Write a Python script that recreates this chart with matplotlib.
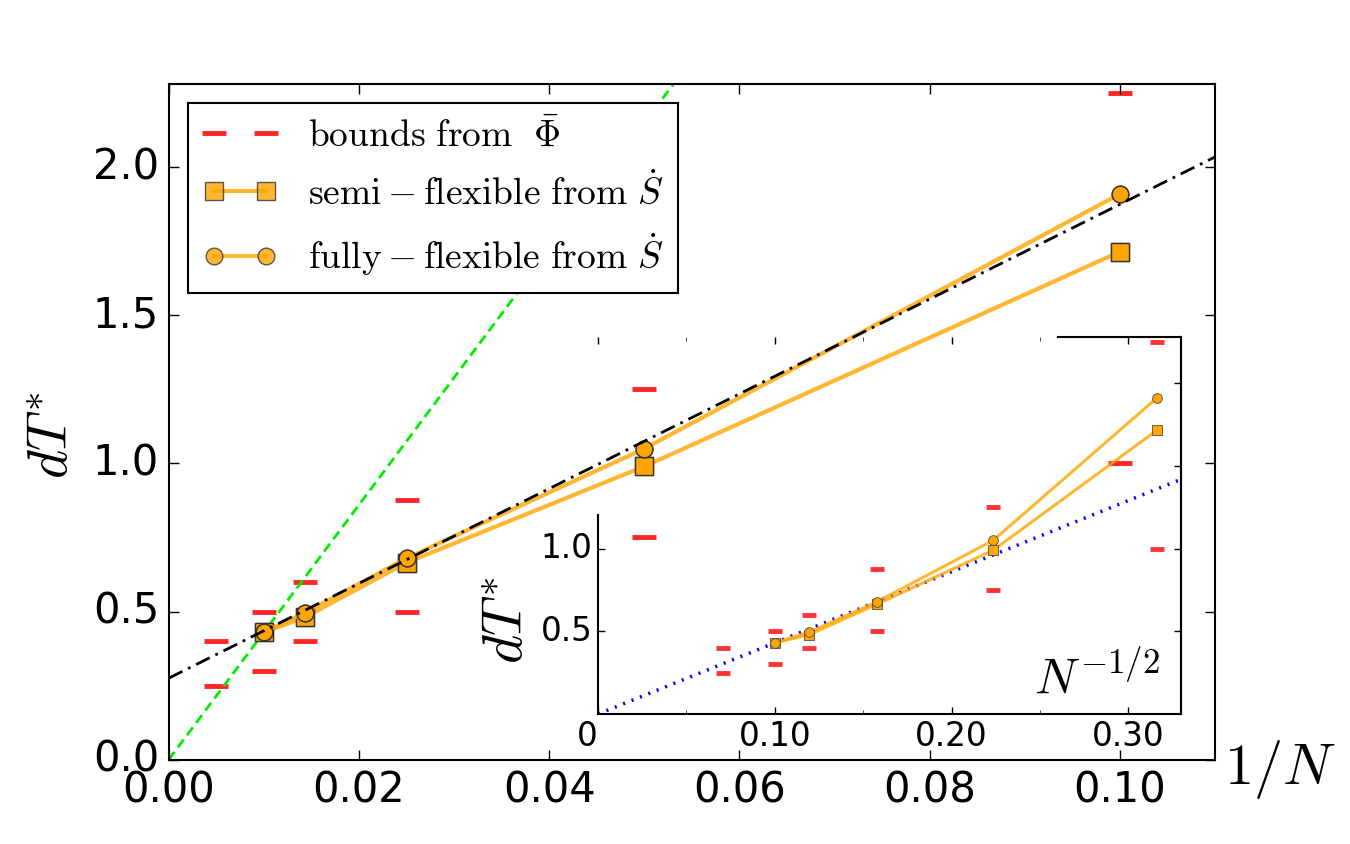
import matplotlib.pyplot as plt
import numpy as np
from matplotlib.ticker import MultipleLocator

plt.style.use('classic')
plt.rcParams['mathtext.fontset'] = 'cm'
plt.rcParams['figure.facecolor'] = 'white'
plt.rcParams['savefig.facecolor'] = 'white'
plt.rcParams['axes.linewidth'] = 1.5
plt.rcParams['lines.scale_dashes'] = False

# data
N = np.array([100, 70, 40, 20, 10])
semi = [0.43, 0.48, 0.665, 0.99, 1.715]
fully = [0.43, 0.495, 0.68, 1.05, 1.91]
N_bounds = np.array([200, 100, 70, 40, 20, 10])
bound_lo = [0.25, 0.30, 0.40, 0.50, 0.75, 1.00]
bound_hi = [0.40, 0.50, 0.60, 0.875, 1.25, 2.25]
fit_intercept = 0.275
fit_slope = 16.0
ref_N = 100          # the green / blue lines go through the N=100 point
ref_val = 0.43

fig = plt.figure(figsize=(13.5, 8.44), dpi=100)
ax = fig.add_axes([0.125, 0.1, 0.775, 0.8])

x = 1.0 / N
xb = 1.0 / N_bounds

ax.plot(xb, bound_lo, '_', color='red', ms=17, mew=3.5, alpha=0.85,
        label=r'$\mathrm{bounds\ from}\ \ \bar{\Phi}$')
ax.plot(xb, bound_hi, '_', color='red', ms=17, mew=3.5, alpha=0.85)

xg = np.array([0.0, 0.06])
ax.plot(xg, ref_val * ref_N * xg, color='#00ee00', lw=2, dashes=[7, 4])
xf = np.array([0.0, 0.11])
ax.plot(xf, fit_intercept + fit_slope * xf, color='k', lw=2,
        dashes=[11, 4.5, 2, 4.5], zorder=4)

ax.plot(x, semi, '-', color='orange', lw=3, alpha=0.8, marker='s', ms=12.5,
        mfc='orange', mec='0.2', mew=1,
        label=r'$\mathrm{semi-flexible\ from}\ \dot{S}$')
ax.plot(x, semi, 's', ms=12.5, mfc='orange', mec='0.2', mew=1)
ax.plot(x, fully, '-', color='orange', lw=3, alpha=0.8, marker='o', ms=12,
        mfc='orange', mec='0.2', mew=1,
        label=r'$\mathrm{fully-flexible\ from}\ \dot{S}$')
ax.plot(x, fully, 'o', ms=12, mfc='orange', mec='0.2', mew=1)

ax.set_xlim(0, 0.11)
ax.set_ylim(0, 2.28)
ax.set_xticks(np.arange(0, 0.101, 0.02))
ax.set_yticks(np.arange(0, 2.01, 0.5))
ax.tick_params(labelsize=30, length=7, width=1, pad=7)

ax.set_xlabel(r'$1/N$', fontsize=42, va='center')
ax.xaxis.set_label_coords(1.062, -0.015)
ax.set_ylabel(r'$dT^{*}$', fontsize=40, va='center')
ax.yaxis.set_label_coords(-0.112, 0.48)

leg = ax.legend(loc='upper left', fontsize=27, numpoints=2,
                handlelength=2.0, fancybox=False)
leg.get_frame().set_linewidth(1.5)

# inset: same data against N^{-1/2}
axi = fig.add_axes([0.443, 0.154, 0.432, 0.447])
axi.patch.set_alpha(0)
s = 1.0 / np.sqrt(N)
sb = 1.0 / np.sqrt(N_bounds)

axi.plot(sb, bound_lo, '_', color='red', ms=10, mew=3.5, alpha=0.8)
axi.plot(sb, bound_hi, '_', color='red', ms=10, mew=3.5, alpha=0.8)
xs = np.array([0.0, 0.33])
axi.plot(xs, ref_val * np.sqrt(ref_N) * xs, color='blue', lw=2.5,
         dashes=[1.5, 5])
axi.plot(s, semi, '-', color='orange', lw=2.2, alpha=0.8)
axi.plot(s, fully, '-', color='orange', lw=2.2, alpha=0.8)
axi.plot(s, semi, 's', ms=7, mfc='orange', mec='0.3', mew=0.6)
axi.plot(s, fully, 'o', ms=7, mfc='orange', mec='0.3', mew=0.6)

axi.set_xlim(0, 0.33)
axi.set_ylim(0, 2.28)
axi.set_xticks([0, 0.1, 0.2, 0.3])
axi.set_xticklabels(['0', '0.10', '0.20', '0.30'])
axi.get_xticklabels()[0].set_ha('right')
axi.xaxis.set_minor_locator(MultipleLocator(0.05))
axi.set_yticks([0.5, 1.0])
axi.set_yticklabels(['0.5', '1.0'])
axi.tick_params(labelsize=23.5, length=5, width=1, pad=4)
axi.tick_params(which='minor', length=3)
axi.tick_params(axis='y', right=False)
axi.spines['left'].set_bounds(0, 1.2)
axi.spines['top'].set_bounds(0.26, 0.33)
axi.set_ylabel(r'$dT^{*}$', fontsize=40, va='center')
axi.yaxis.set_label_coords(-0.156, 0.247)
axi.text(0.856, 0.095, r'$N^{-1/2}$', transform=axi.transAxes,
         fontsize=36, ha='center', va='center')

# right-hand ticks of the inset over the full range
axr = axi.twinx()
axr.set_ylim(0, 2.28)
axr.set_yticks([0.5, 1.0, 1.5, 2.0])
axr.set_yticklabels([])
axr.tick_params(axis='y', left=False, right=True, length=5, width=1)
axr.tick_params(axis='x', top=False, bottom=False)
for side in ['left', 'top', 'bottom']:
    axr.spines[side].set_visible(False)

fig.savefig('out.png', dpi=100, facecolor='white')
